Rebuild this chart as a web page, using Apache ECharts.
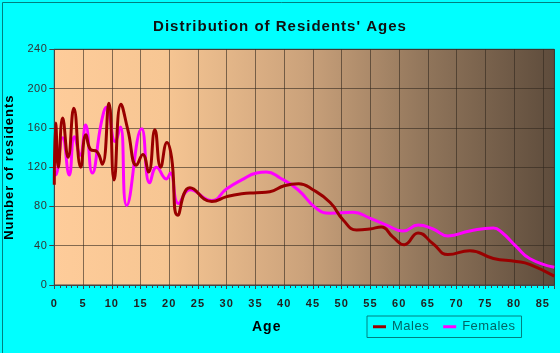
<!DOCTYPE html>
<html>
<head>
<meta charset="utf-8">
<script src="https://cdn.jsdelivr.net/npm/echarts@6/dist/echarts.min.js"></script>
<style>html,body{margin:0;padding:0;background:#00FFFF;}#c{width:560px;height:353px;}</style>
</head>
<body>
<div id="c"></div>
<script>
const chartTitle = "Distribution of Residents' Ages";
const xTitle = "Age";
const yTitle = "Number of residents";
const seriesNames = ["Males", "Females"];

const maleAges   = [0, 0.25, 0.7, 1.45, 2.4, 3.4, 4.6, 5.5, 6.3, 7.4, 8.35, 9.5, 10.4, 11.6, 12.8, 14.3, 15.4, 16.4, 17.5, 18.5, 19.6, 20.4, 21.5, 23.6, 27.4, 30, 32.6, 35.2, 37.5, 40, 42.5, 45, 48, 50.3, 52.6, 54.9, 56.9, 58.9, 60.9, 63.3, 65.9, 68.5, 72.3, 76.4, 80.4, 82.7, 87];
const maleValues = [102, 165, 120, 170, 130, 180, 120, 153, 138, 136, 123, 185, 107, 184, 158, 122, 133, 115, 158, 120, 145, 130, 71, 99, 85, 90, 93, 94, 95, 101, 103, 97, 84, 66, 56, 57, 59, 49, 41, 53, 42, 31, 35, 27, 24, 21, 9];

const femaleAges   = [0, 0.2, 1.45, 2.6, 3.5, 4.5, 5.45, 6.6, 8.2, 9.1, 10.6, 11.5, 12.6, 15.2, 16.6, 17.8, 19.5, 20.2, 21.6, 23.6, 27.4, 30, 32.6, 35.2, 36.9, 39.3, 42.4, 45.6, 48, 52, 54.9, 57.8, 60.7, 63.3, 65.9, 68.5, 72.3, 76.4, 77.8, 80.4, 82.7, 87];
const femaleValues = [116, 112, 150, 112, 151, 132, 163, 114, 166, 181, 146, 161, 81, 159, 104, 120, 108, 114, 83, 97, 86, 98, 107, 114, 115, 109, 97, 78, 73, 74, 68, 61, 55, 61, 57, 50, 55, 58, 54, 39, 27, 18];

const yTicks = [0, 40, 80, 120, 160, 200, 240];
const xTickStep = 5;

const pair = (xs, ys) => xs.map((x, i) => [x, ys[i]]);

// the reference draws its text slightly letter-spaced
(function () {
  const d = Object.getOwnPropertyDescriptor(CanvasRenderingContext2D.prototype, 'font');
  if (!d || !('letterSpacing' in CanvasRenderingContext2D.prototype)) return;
  Object.defineProperty(CanvasRenderingContext2D.prototype, 'font', {
    configurable: true,
    get() { return d.get.call(this); },
    set(v) { d.set.call(this, v); this.letterSpacing = /bold/.test(v) ? '1px' : '0.5px'; }
  });
})();

const chart = echarts.init(document.getElementById('c'), null, {renderer: 'canvas'});
chart.setOption({
  backgroundColor: '#00FFFF',
  animation: false,
  title: {
    text: chartTitle, left: 'center', top: 14,
    textStyle: {fontFamily: 'Liberation Sans, Arial', fontSize: 15, fontWeight: 'bold', color: '#111'}
  },
  graphic: [
    {type: 'rect', left: 0, top: 0, shape: {width: 559, height: 352}, style: {fill: 'none', stroke: '#008080', lineWidth: 1}, z: 100},
    {type: 'text', left: 252, top: 320, style: {text: xTitle, font: 'bold 14px "Liberation Sans", Arial', fill: '#000'}}
  ],
  legend: {
    left: 367, top: 316, width: 155,
    padding: [4, 6], itemGap: 14,
    itemWidth: 13, itemHeight: 3, icon: 'rect',
    borderColor: '#008080', borderWidth: 1,
    textStyle: {fontFamily: 'Liberation Sans, Arial', fontSize: 13, color: '#006666', padding: [0, 0, 0, 1]},
    data: seriesNames
  },
  grid: {
    left: 54.3, right: 5.7, top: 49.3, bottom: 68,
    outerBoundsMode: 'none',
    containLabel: false,
    show: true, borderColor: '#444', borderWidth: 1,
    backgroundColor: new echarts.graphic.LinearGradient(0, 0, 1, 0, [
      {offset: 0, color: '#FECC9A'},
      {offset: 0.22, color: '#F7C693'},
      {offset: 0.5, color: '#CBA27B'},
      {offset: 0.75, color: '#8F745A'},
      {offset: 1, color: '#5E4C3C'}
    ])
  },
  xAxis: {
    type: 'value', min: 0, max: 87, interval: xTickStep,
    axisLine: {show: true, lineStyle: {color: '#444'}},
    axisTick: {show: true, length: 4, lineStyle: {color: '#444'}},
    minorTick: {show: true, splitNumber: 5, length: 3, lineStyle: {color: '#444'}},
    axisLabel: {showMaxLabel: false, margin: 13, fontFamily: 'Liberation Sans, Arial', fontSize: 11, fontWeight: 'bold', color: '#222'},
    splitLine: {show: true, lineStyle: {color: 'rgba(50,40,30,0.6)', width: 1}}
  },
  yAxis: {
    type: 'value', min: yTicks[0], max: yTicks[yTicks.length - 1], interval: 40,
    name: yTitle, nameLocation: 'middle', nameGap: 33,
    nameTextStyle: {fontFamily: 'Liberation Sans, Arial', fontSize: 13, fontWeight: 'bold', color: '#000'},
    axisLine: {show: true, lineStyle: {color: '#444'}},
    axisTick: {show: true, length: 5, lineStyle: {color: '#444'}},
    axisLabel: {margin: 7, fontFamily: 'Liberation Sans, Arial', fontSize: 11, color: '#333'},
    splitLine: {show: true, lineStyle: {color: 'rgba(50,40,30,0.6)', width: 1}}
  },
  series: [
    {name: seriesNames[0], type: 'line', data: pair(maleAges, maleValues), smooth: 0.5, showSymbol: false, z: 3,
     lineStyle: {color: '#990000', width: 3}, itemStyle: {color: '#990000'}},
    {name: seriesNames[1], type: 'line', data: pair(femaleAges, femaleValues), smooth: 0.5, showSymbol: false, z: 2,
     lineStyle: {color: '#FF00FF', width: 3}, itemStyle: {color: '#FF00FF'}}
  ]
});
</script>
</body>
</html>
